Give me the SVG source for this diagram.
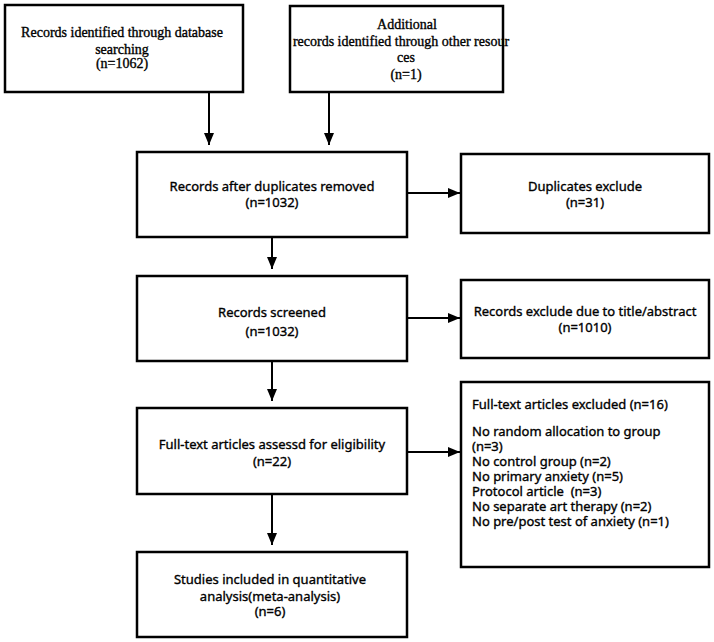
<svg xmlns="http://www.w3.org/2000/svg" width="714" height="642" viewBox="0 0 714 642">
<defs>
<marker id="ah" markerWidth="12" markerHeight="10" refX="12" refY="5" orient="auto" markerUnits="userSpaceOnUse">
<path d="M0,0 L12,5 L0,10 Z" fill="#000"/>
</marker>
<style>
.box{fill:#fff;stroke:#000;stroke-width:2.5}
.serif{font-family:"Liberation Serif","Times New Roman",serif;font-size:14px;fill:#000;stroke:#000;stroke-width:0.35;text-anchor:middle}
.sans{font-family:"Noto Sans","Open Sans",sans-serif;font-size:13px;fill:#000;stroke:#000;stroke-width:0.35;text-anchor:middle}
.left{text-anchor:start;white-space:pre}
.conn{stroke:#000;stroke-width:2;fill:none;marker-end:url(#ah)}
</style>
</defs>
<rect width="714" height="642" fill="#fff"/>
<g id="n1">
<rect class="box" x="5" y="5" width="238" height="87"/>
<text class="serif" x="122" y="37">Records identified through database</text>
<text class="serif" x="122" y="54">searching</text>
<text class="serif" x="122" y="68">(n=1062)</text>
</g>
<g id="n2">
<rect class="box" x="290" y="6" width="213" height="86"/>
<text class="serif" x="407" y="29">Additional</text>
<text class="serif" x="401" y="46">records identified through other resour</text>
<text class="serif" x="406" y="62">ces</text>
<text class="serif" x="406" y="79">(n=1)</text>
</g>
<g id="n3">
<rect class="box" x="137" y="152" width="270" height="85"/>
<text class="sans" x="272" y="191">Records after duplicates removed</text>
<text class="sans" x="272" y="207">(n=1032)</text>
</g>
<g id="n4">
<rect class="box" x="461" y="154" width="248" height="79"/>
<text class="sans" x="585" y="191">Duplicates exclude</text>
<text class="sans" x="585" y="207">(n=31)</text>
</g>
<g id="n5">
<rect class="box" x="461" y="280" width="248" height="78"/>
<text class="sans" x="585" y="316">Records exclude due to title/abstract</text>
<text class="sans" x="585" y="332">(n=1010)</text>
</g>
<g id="n6">
<rect class="box" x="137" y="276" width="270" height="85"/>
<text class="sans" x="272" y="317">Records screened</text>
<text class="sans" x="272" y="336">(n=1032)</text>
</g>
<g id="n7">
<rect class="box" x="137" y="408" width="270" height="86"/>
<text class="sans" x="272" y="449">Full-text articles assessd for eligibility</text>
<text class="sans" x="272" y="466">(n=22)</text>
</g>
<g id="n8">
<rect class="box" x="461" y="382" width="248" height="185"/>
<text class="sans left" x="472" y="409">Full-text articles excluded (n=16)</text>
<text class="sans left" x="472" y="436">No random allocation to group</text>
<text class="sans left" x="472" y="451">(n=3)</text>
<text class="sans left" x="472" y="466">No control group (n=2)</text>
<text class="sans left" x="472" y="481">No primary anxiety (n=5)</text>
<text class="sans left" x="472" y="496" xml:space="preserve">Protocol article  (n=3)</text>
<text class="sans left" x="472" y="511">No separate art therapy (n=2)</text>
<text class="sans left" x="472" y="526">No pre/post test of anxiety (n=1)</text>
</g>
<g id="n9">
<rect class="box" x="137" y="552" width="270" height="85"/>
<text class="sans" x="270" y="584">Studies included in quantitative</text>
<text class="sans" x="270" y="601">analysis(meta-analysis)</text>
<text class="sans" x="270" y="616">(n=6)</text>
</g>
<g id="connectors">
<line class="conn" x1="209" y1="92" x2="209" y2="145"/>
<line class="conn" x1="329" y1="92" x2="329" y2="145"/>
<line class="conn" x1="407" y1="193" x2="460" y2="193"/>
<line class="conn" x1="272" y1="237" x2="272" y2="269"/>
<line class="conn" x1="407" y1="318" x2="460" y2="318"/>
<line class="conn" x1="272" y1="361" x2="272" y2="401"/>
<line class="conn" x1="407" y1="452" x2="460" y2="452"/>
<line class="conn" x1="272" y1="494" x2="272" y2="545"/>
</g>
</svg>
